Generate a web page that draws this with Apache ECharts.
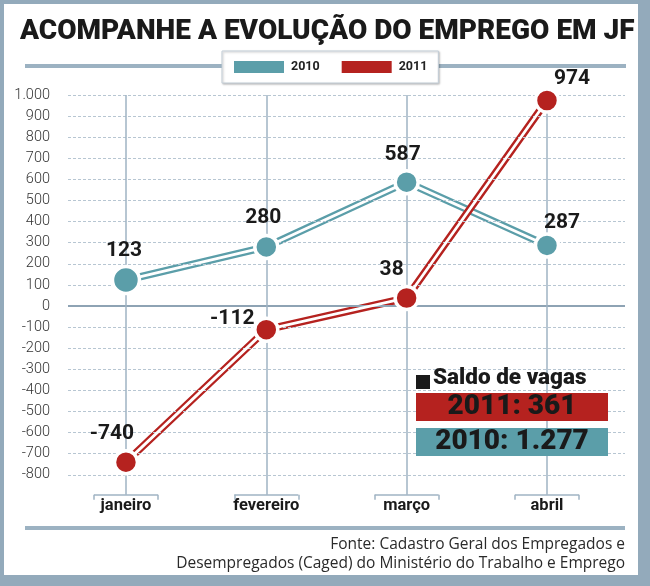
<!DOCTYPE html>
<html>
<head>
<meta charset="utf-8">
<script src="https://cdn.jsdelivr.net/npm/echarts@6/dist/echarts.min.js"></script>
<style>html,body{margin:0;padding:0;background:#fff}#chart{width:650px;height:586px}</style>
</head>
<body>
<div id="chart"></div>
<script>
const titleText = 'ACOMPANHE A EVOLUÇÃO DO EMPREGO EM JF';
const categories = ['janeiro', 'fevereiro', 'março', 'abril'];
const seriesNames = ['2010', '2011'];
const values2010 = [123, 280, 587, 287];
const values2011 = [-740, -112, 38, 974];
const yTicks = [1000, 900, 800, 700, 600, 500, 400, 300, 200, 100, 0, -100, -200, -300, -400, -500, -600, -700, -800];
const yTickLabels = ['1.000', '900', '800', '700', '600', '500', '400', '300', '200', '100', '0', '-100', '-200', '-300', '-400', '-500', '-600', '-700', '-800'];
const totalsTitle = 'Saldo de vagas';
const totalsLabels = ['2011: 361', '2010: 1.277'];
const sourceLines = ['Fonte: Cadastro Geral dos Empregados e', 'Desempregados (Caged) do Ministério do Trabalho e Emprego'];

const TEAL = '#5b9ea9';
const RED = '#b5221f';
const FRAME = '#93aabb';
const FONT = "Roboto, sans-serif";

// label offsets (styles), separate from data
const offs2010 = [[-2, -29], [-3, -29], [-4, -27], [15, -23]];
const offs2011 = [[-14, -28], [-34, -11], [-15, -28], [25, -22]];

const chart = echarts.init(document.getElementById('chart'), null, {renderer: 'canvas'});

function pts(vals) { return vals.map((v, i) => [i, v]); }

function baseSeries(vals, color, z) {
  return {type: 'line', data: pts(vals), z: z, symbol: 'none', silent: true,
    lineStyle: {color: color, width: 7.5}, label: {show: false}};
}
function whiteSeries(vals, z) {
  return {type: 'line', data: pts(vals), z: z, symbol: 'none', silent: true,
    lineStyle: {color: '#fff', width: 2.8}, label: {show: false}};
}
function symSeries(name, vals, color, offs) {
  return {
    name: name, type: 'line', z: 10, silent: true,
    data: vals.map((v, i) => ({value: [i, v], symbolSize: i === 0 && name === '2010' ? 27 : 23,
      label: {offset: offs[i]}})),
    symbol: 'circle',
    lineStyle: {width: 0, opacity: 0},
    itemStyle: {color: color, borderColor: '#fff', borderWidth: 3.5, opacity: 1},
    label: {show: true, position: 'inside', color: '#1a1a1a', fontSize: 21, fontWeight: 'bold',
      fontFamily: FONT, formatter: p => String(p.value[1])}
  };
}

const hLines = yTicks.filter(v => v !== 0).map(v => ({yAxis: v}));
const vLines = [];
categories.forEach((c, i) => {
  vLines.push([{coord: [i, 1000]}, {coord: [i, -895]}]);
  vLines.push([{coord: [i - 0.228, -895]}, {coord: [i + 0.228, -895]}]);
  vLines.push([{coord: [i - 0.228, -895]}, {coord: [i - 0.228, -918]}]);
  vLines.push([{coord: [i + 0.228, -895]}, {coord: [i + 0.228, -918]}]);
});

const option = {
  animation: false,
  backgroundColor: '#fff',
  grid: {left: 68, right: 25, top: 95, bottom: 69, containLabel: false},
  legend: {
    data: seriesNames, selectedMode: false, icon: 'rect',
    left: 222, top: 51, itemWidth: 52, itemHeight: 14, itemGap: 20,
    padding: [8, 11, 8, 10], backgroundColor: '#fff', borderColor: '#c3ced7', borderWidth: 1,
    shadowColor: 'rgba(0,0,0,0.25)', shadowBlur: 2, shadowOffsetX: 1, shadowOffsetY: 1,
    textStyle: {fontSize: 12.5, fontWeight: 'bold', color: '#222', fontFamily: FONT, padding: [0, 0, 0, 1]},
    z: 20
  },
  xAxis: {
    type: 'value', min: -0.413, max: 3.556, offset: -20,
    axisLine: {show: false}, axisTick: {show: false}, splitLine: {show: false},
    axisLabel: {customValues: [0, 1, 2, 3], margin: 0, formatter: v => categories[Math.round(v)] || '',
      color: '#1a1a1a', fontSize: 16.5, fontWeight: 'bold', fontFamily: FONT}
  },
  yAxis: {
    type: 'value', min: -1000, max: 1000, interval: 100,
    axisLine: {show: false}, axisTick: {show: false}, splitLine: {show: false},
    axisLabel: {margin: 18, color: '#333', fontSize: 14.5, fontWeight: 300, fontFamily: FONT,
      formatter: v => { const k = yTicks.indexOf(v); return k >= 0 ? yTickLabels[k] : ''; }}
  },
  series: [
    {type: 'line', data: [], z: 1, silent: true,
      markLine: {silent: true, symbol: ['none', 'none'], label: {show: false}, animation: false,
        lineStyle: {color: '#b7c6d2', width: 1.2, type: [3, 2]}, data: hLines}},
    {type: 'line', data: [], z: 1, silent: true,
      markLine: {silent: true, symbol: ['none', 'none'], label: {show: false}, animation: false,
        lineStyle: {color: '#8ea3b4', width: 2, type: 'solid'}, data: [{yAxis: 0}]}},
    {type: 'line', data: [], z: 1, silent: true,
      markLine: {silent: true, symbol: ['none', 'none'], label: {show: false}, animation: false,
        lineStyle: {color: '#9fb3c3', width: 1.5, type: 'solid'}, data: vLines}},
    baseSeries(values2010, TEAL, 2),
    whiteSeries(values2010, 3),
    baseSeries(values2011, RED, 4),
    whiteSeries(values2011, 5),
    symSeries('2010', values2010, TEAL, offs2010),
    symSeries('2011', values2011, RED, offs2011)
  ],
  graphic: [
    {type: 'rect', z: -10, silent: true, shape: {x: 0, y: 0, width: 650, height: 586}, style: {fill: FRAME}},
    {type: 'rect', z: -9, silent: true, shape: {x: 4, y: 4, width: 634, height: 571}, style: {fill: '#fff'}},
    {type: 'text', z: 5, left: 20, top: 18, style: {text: titleText, fill: '#1a1a1a',
      font: "900 28px Roboto, sans-serif"}},
    {type: 'rect', z: 0, silent: true, shape: {x: 25, y: 64, width: 601, height: 4}, style: {fill: '#9cb2c2'}},
    {type: 'rect', z: 0, silent: true, shape: {x: 25, y: 526, width: 600, height: 4}, style: {fill: '#9cb2c2'}},
    {type: 'text', z: 5, right: 25, top: 537, style: {text: sourceLines[0], fill: '#2a2a2a', align: 'right',
      font: "15.5px 'Open Sans', sans-serif"}},
    {type: 'text', z: 5, right: 25, top: 556, style: {text: sourceLines[1], fill: '#2a2a2a', align: 'right',
      font: "15.5px 'Open Sans', sans-serif"}},
    {type: 'rect', z: 30, shape: {x: 416, y: 375, width: 14, height: 14}, style: {fill: '#1a1a1a'}},
    {type: 'text', z: 30, left: 433, top: 367, style: {text: totalsTitle, fill: '#1a1a1a',
      font: "900 22.5px Roboto, sans-serif"}},
    {type: 'rect', z: 30, shape: {x: 416, y: 393, width: 192, height: 28}, style: {fill: RED}},
    {type: 'text', z: 31, x: 512, y: 407, style: {text: totalsLabels[0], fill: '#1a1a1a', align: 'center',
      verticalAlign: 'middle', font: "900 28px Roboto, sans-serif"}},
    {type: 'rect', z: 30, shape: {x: 416, y: 428, width: 192, height: 28}, style: {fill: TEAL}},
    {type: 'text', z: 31, x: 512, y: 442, style: {text: totalsLabels[1], fill: '#1a1a1a', align: 'center',
      verticalAlign: 'middle', font: "900 28px Roboto, sans-serif"}}
  ]
};
chart.setOption(option);
</script>
</body>
</html>
